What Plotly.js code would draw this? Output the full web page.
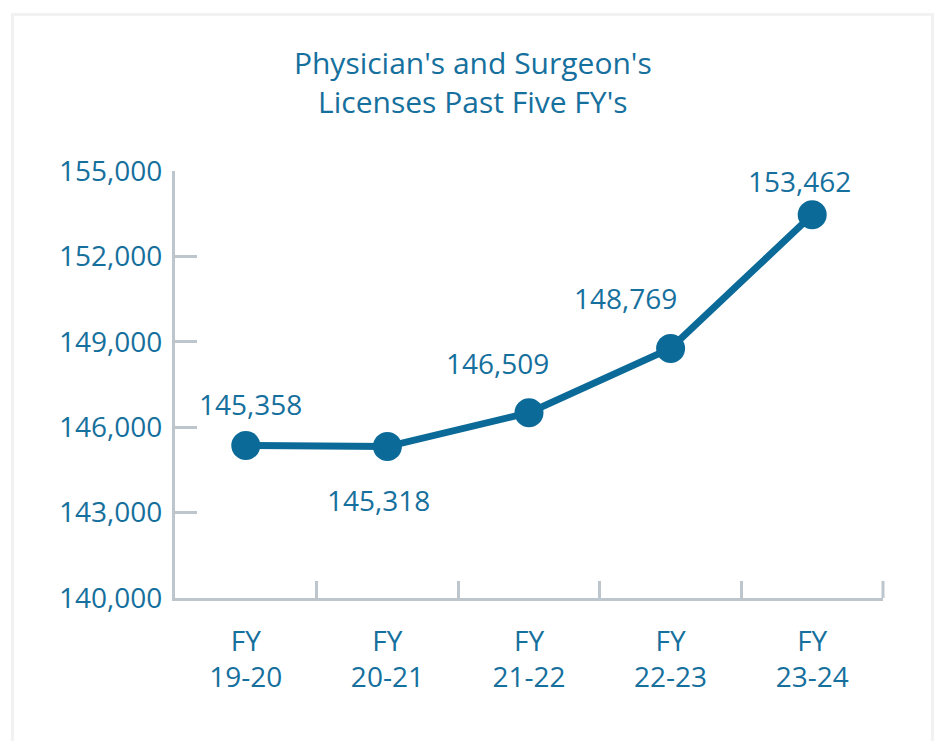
<!DOCTYPE html>
<html>
<head>
<meta charset="utf-8">
<script src="https://cdn.plot.ly/plotly-3.0.1.min.js"></script>
<style>
  html, body { margin: 0; padding: 0; background: #ffffff; }
  #wrap { position: relative; width: 940px; height: 741px; overflow: hidden; }
  #chart { position: absolute; left: 0; top: 0; width: 940px; height: 741px; }
  #frame { position: absolute; left: 11px; top: 13px; width: 917px; height: 760px;
           border: 3px solid #f2f2f2; pointer-events: none; }
</style>
</head>
<body>
<div id="wrap">
  <div id="chart"></div>
  <div id="frame"></div>
</div>
<script>
// ---- data ----
const categories = ["FY<br>19-20", "FY<br>20-21", "FY<br>21-22", "FY<br>22-23", "FY<br>23-24"];
const licenses = [145358, 145318, 146509, 148769, 153462];
const valueLabels = ["145,358", "145,318", "146,509", "148,769", "153,462"];
const yTickValues = [140000, 143000, 146000, 149000, 152000, 155000];
const yTickLabels = ["140,000", "143,000", "146,000", "149,000", "152,000", "155,000"];

// ---- style ----
const blue = "#0b6a98";
const textBlue = "#16709d";
const axisGrey = "#bcc6cc";
const fontFam = "'Open Sans', sans-serif";
// label offsets (pixels) relative to each point
const labelShiftX = [5, -9, -32, -45, -13];
const labelShiftY = [41, -53, 50, 50, 34];

const annotations = categories.map((c, i) => ({
  x: c, y: licenses[i], xref: "x", yref: "y",
  text: valueLabels[i], showarrow: false,
  xanchor: "center", yanchor: "middle",
  xshift: labelShiftX[i], yshift: labelShiftY[i],
  font: { family: fontFam, size: 28, color: textBlue }
}));

const trace = {
  type: "scatter", mode: "lines+markers",
  x: categories, y: licenses,
  line: { color: blue, width: 7 },
  marker: { color: blue, size: 29 },
  hoverinfo: "skip", cliponaxis: false
};

const layout = {
  width: 940, height: 741,
  margin: { l: 175, r: 57, t: 171, b: 143 },
  paper_bgcolor: "#ffffff", plot_bgcolor: "#ffffff",
  showlegend: false,
  font: { family: fontFam, color: textBlue, size: 28 },
  title: {
    text: "Physician's and Surgeon's<br>Licenses Past Five FY's",
    font: { family: fontFam, size: 30, color: textBlue },
    xref: "container", x: 0.503, xanchor: "center",
    yref: "container", y: 0.9, yanchor: "top"
  },
  xaxis: {
    type: "category", range: [-0.5, 4.5], fixedrange: true,
    showgrid: false, zeroline: false,
    showline: true, linecolor: axisGrey, linewidth: 3,
    ticks: "inside", tickson: "boundaries", ticklen: 17, tickwidth: 3, tickcolor: axisGrey,
    tickfont: { family: fontFam, size: 28, color: textBlue },
    ticklabelstandoff: 16
  },
  yaxis: {
    range: [140000, 155000], fixedrange: true,
    showgrid: false, zeroline: false,
    showline: true, linecolor: axisGrey, linewidth: 3,
    ticks: "inside", ticklen: 22, tickwidth: 3, tickcolor: axisGrey,
    tickmode: "array", tickvals: yTickValues, ticktext: yTickLabels,
    tickfont: { family: fontFam, size: 28, color: textBlue },
    ticklabelstandoff: 4
  },
  shapes: [{
    // closing tick at the right end of the x axis
    type: "line", xref: "paper", yref: "paper",
    x0: 1, x1: 1, y0: 0, y1: 0.04,
    line: { color: axisGrey, width: 3 }, layer: "above"
  }],
  annotations: annotations
};

Plotly.newPlot("chart", [trace], layout, { staticPlot: true, displayModeBar: false });
</script>
</body>
</html>
